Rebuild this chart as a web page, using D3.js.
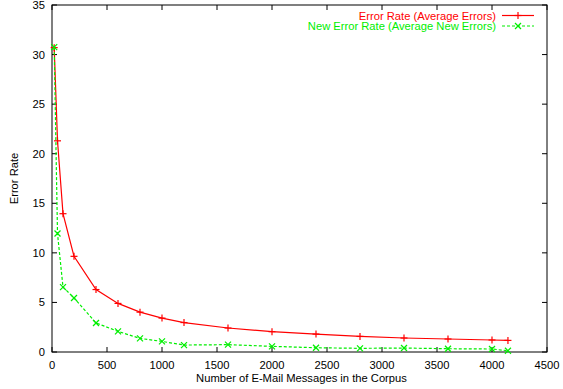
<!DOCTYPE html>
<html><head><meta charset="utf-8">
<script src="https://cdn.jsdelivr.net/npm/d3@7"></script>
<style>body{margin:0;background:#fff}svg{display:block}text{font-family:"Liberation Sans",Arial,sans-serif}</style>
</head><body>
<script>
const xVals = [20, 50, 100, 200, 400, 600, 800, 1000, 1200, 1600, 2000, 2400, 2800, 3200, 3600, 4000, 4145];
const errorRate = [30.7, 21.3, 13.95, 9.65, 6.3, 4.9, 4.02, 3.42, 2.97, 2.42, 2.05, 1.81, 1.57, 1.41, 1.31, 1.21, 1.17];
const newErrorRate = [30.75, 11.95, 6.55, 5.45, 2.93, 2.08, 1.37, 1.07, 0.7, 0.74, 0.57, 0.43, 0.37, 0.4, 0.33, 0.3, 0.13];
const xTicks = [0, 500, 1000, 1500, 2000, 2500, 3000, 3500, 4000, 4500];
const yTicks = [0, 5, 10, 15, 20, 25, 30, 35];
const seriesNames = ["Error Rate (Average Errors)", "New Error Rate (Average New Errors)"];
const colors = ["#ff0000", "#00ee00"];

const W = 563, H = 389;
const L = 52, R = 547, T = 5, B = 352;
const svg = d3.select("body").append("svg").attr("width", W).attr("height", H);
const x = d3.scaleLinear().domain([0, 4500]).range([L, R]);
const y = d3.scaleLinear().domain([0, 35]).range([B, T]);
const tl = 5;
const fs = "11.2px";

svg.append("rect").attr("x", L).attr("y", T).attr("width", R - L).attr("height", B - T)
  .attr("fill", "none").attr("stroke", "#000").attr("stroke-width", 1);

const tg = svg.append("g").attr("stroke", "#000").attr("stroke-width", 1);
xTicks.forEach(t => {
  tg.append("line").attr("x1", x(t)).attr("x2", x(t)).attr("y1", B).attr("y2", B - tl);
  tg.append("line").attr("x1", x(t)).attr("x2", x(t)).attr("y1", T).attr("y2", T + tl);
  svg.append("text").attr("x", x(t)).attr("y", B + 17).attr("text-anchor", "middle")
    .attr("font-size", fs).attr("fill", "#000").text(t);
});
yTicks.forEach(t => {
  tg.append("line").attr("x1", L).attr("x2", L + tl).attr("y1", y(t)).attr("y2", y(t));
  tg.append("line").attr("x1", R).attr("x2", R - tl).attr("y1", y(t)).attr("y2", y(t));
  svg.append("text").attr("x", L - 7).attr("y", y(t) + 4).attr("text-anchor", "end")
    .attr("font-size", fs).attr("fill", "#000").text(t);
});

svg.append("text").attr("x", (L + R) / 2 + 2).attr("y", 382).attr("text-anchor", "middle")
  .attr("font-size", fs).text("Number of E-Mail Messages in the Corpus");
svg.append("text").attr("transform", `translate(18,${(T + B) / 2}) rotate(-90)`)
  .attr("text-anchor", "middle").attr("font-size", fs).text("Error Rate");

const line = d3.line().x(d => x(d[0])).y(d => y(d[1]));
const series = [errorRate, newErrorRate];
series.forEach((vals, i) => {
  const pts = xVals.map((xv, j) => [xv, vals[j]]);
  svg.append("path").datum(pts).attr("d", line).attr("fill", "none")
    .attr("stroke", colors[i]).attr("stroke-width", 1.2)
    .attr("stroke-dasharray", i === 1 ? "3,2" : null);
  const g = svg.append("g").attr("stroke", colors[i]).attr("stroke-width", 1.2);
  pts.forEach(p => {
    const cx = x(p[0]), cy = y(p[1]);
    if (i === 0) {
      g.append("line").attr("x1", cx - 3.5).attr("x2", cx + 3.5).attr("y1", cy).attr("y2", cy);
      g.append("line").attr("x1", cx).attr("x2", cx).attr("y1", cy - 3.5).attr("y2", cy + 3.5);
    } else {
      g.append("line").attr("x1", cx - 3).attr("x2", cx + 3).attr("y1", cy - 3).attr("y2", cy + 3);
      g.append("line").attr("x1", cx - 3).attr("x2", cx + 3).attr("y1", cy + 3).attr("y2", cy - 3);
    }
  });
});

seriesNames.forEach((name, i) => {
  const ly = 15.5 + i * 10.5;
  svg.append("text").attr("x", 496).attr("y", ly + 4).attr("text-anchor", "end")
    .attr("font-size", fs).attr("fill", colors[i]).text(name);
  svg.append("line").attr("x1", 502).attr("x2", 534).attr("y1", ly).attr("y2", ly)
    .attr("stroke", colors[i]).attr("stroke-width", 1.2)
    .attr("stroke-dasharray", i === 1 ? "3,2" : null);
  const cx = 518, g = svg.append("g").attr("stroke", colors[i]).attr("stroke-width", 1.2);
  if (i === 0) {
    g.append("line").attr("x1", cx - 3.5).attr("x2", cx + 3.5).attr("y1", ly).attr("y2", ly);
    g.append("line").attr("x1", cx).attr("x2", cx).attr("y1", ly - 3.5).attr("y2", ly + 3.5);
  } else {
    g.append("line").attr("x1", cx - 3).attr("x2", cx + 3).attr("y1", ly - 3).attr("y2", ly + 3);
    g.append("line").attr("x1", cx - 3).attr("x2", cx + 3).attr("y1", ly + 3).attr("y2", ly - 3);
  }
});
</script>
</body></html>
